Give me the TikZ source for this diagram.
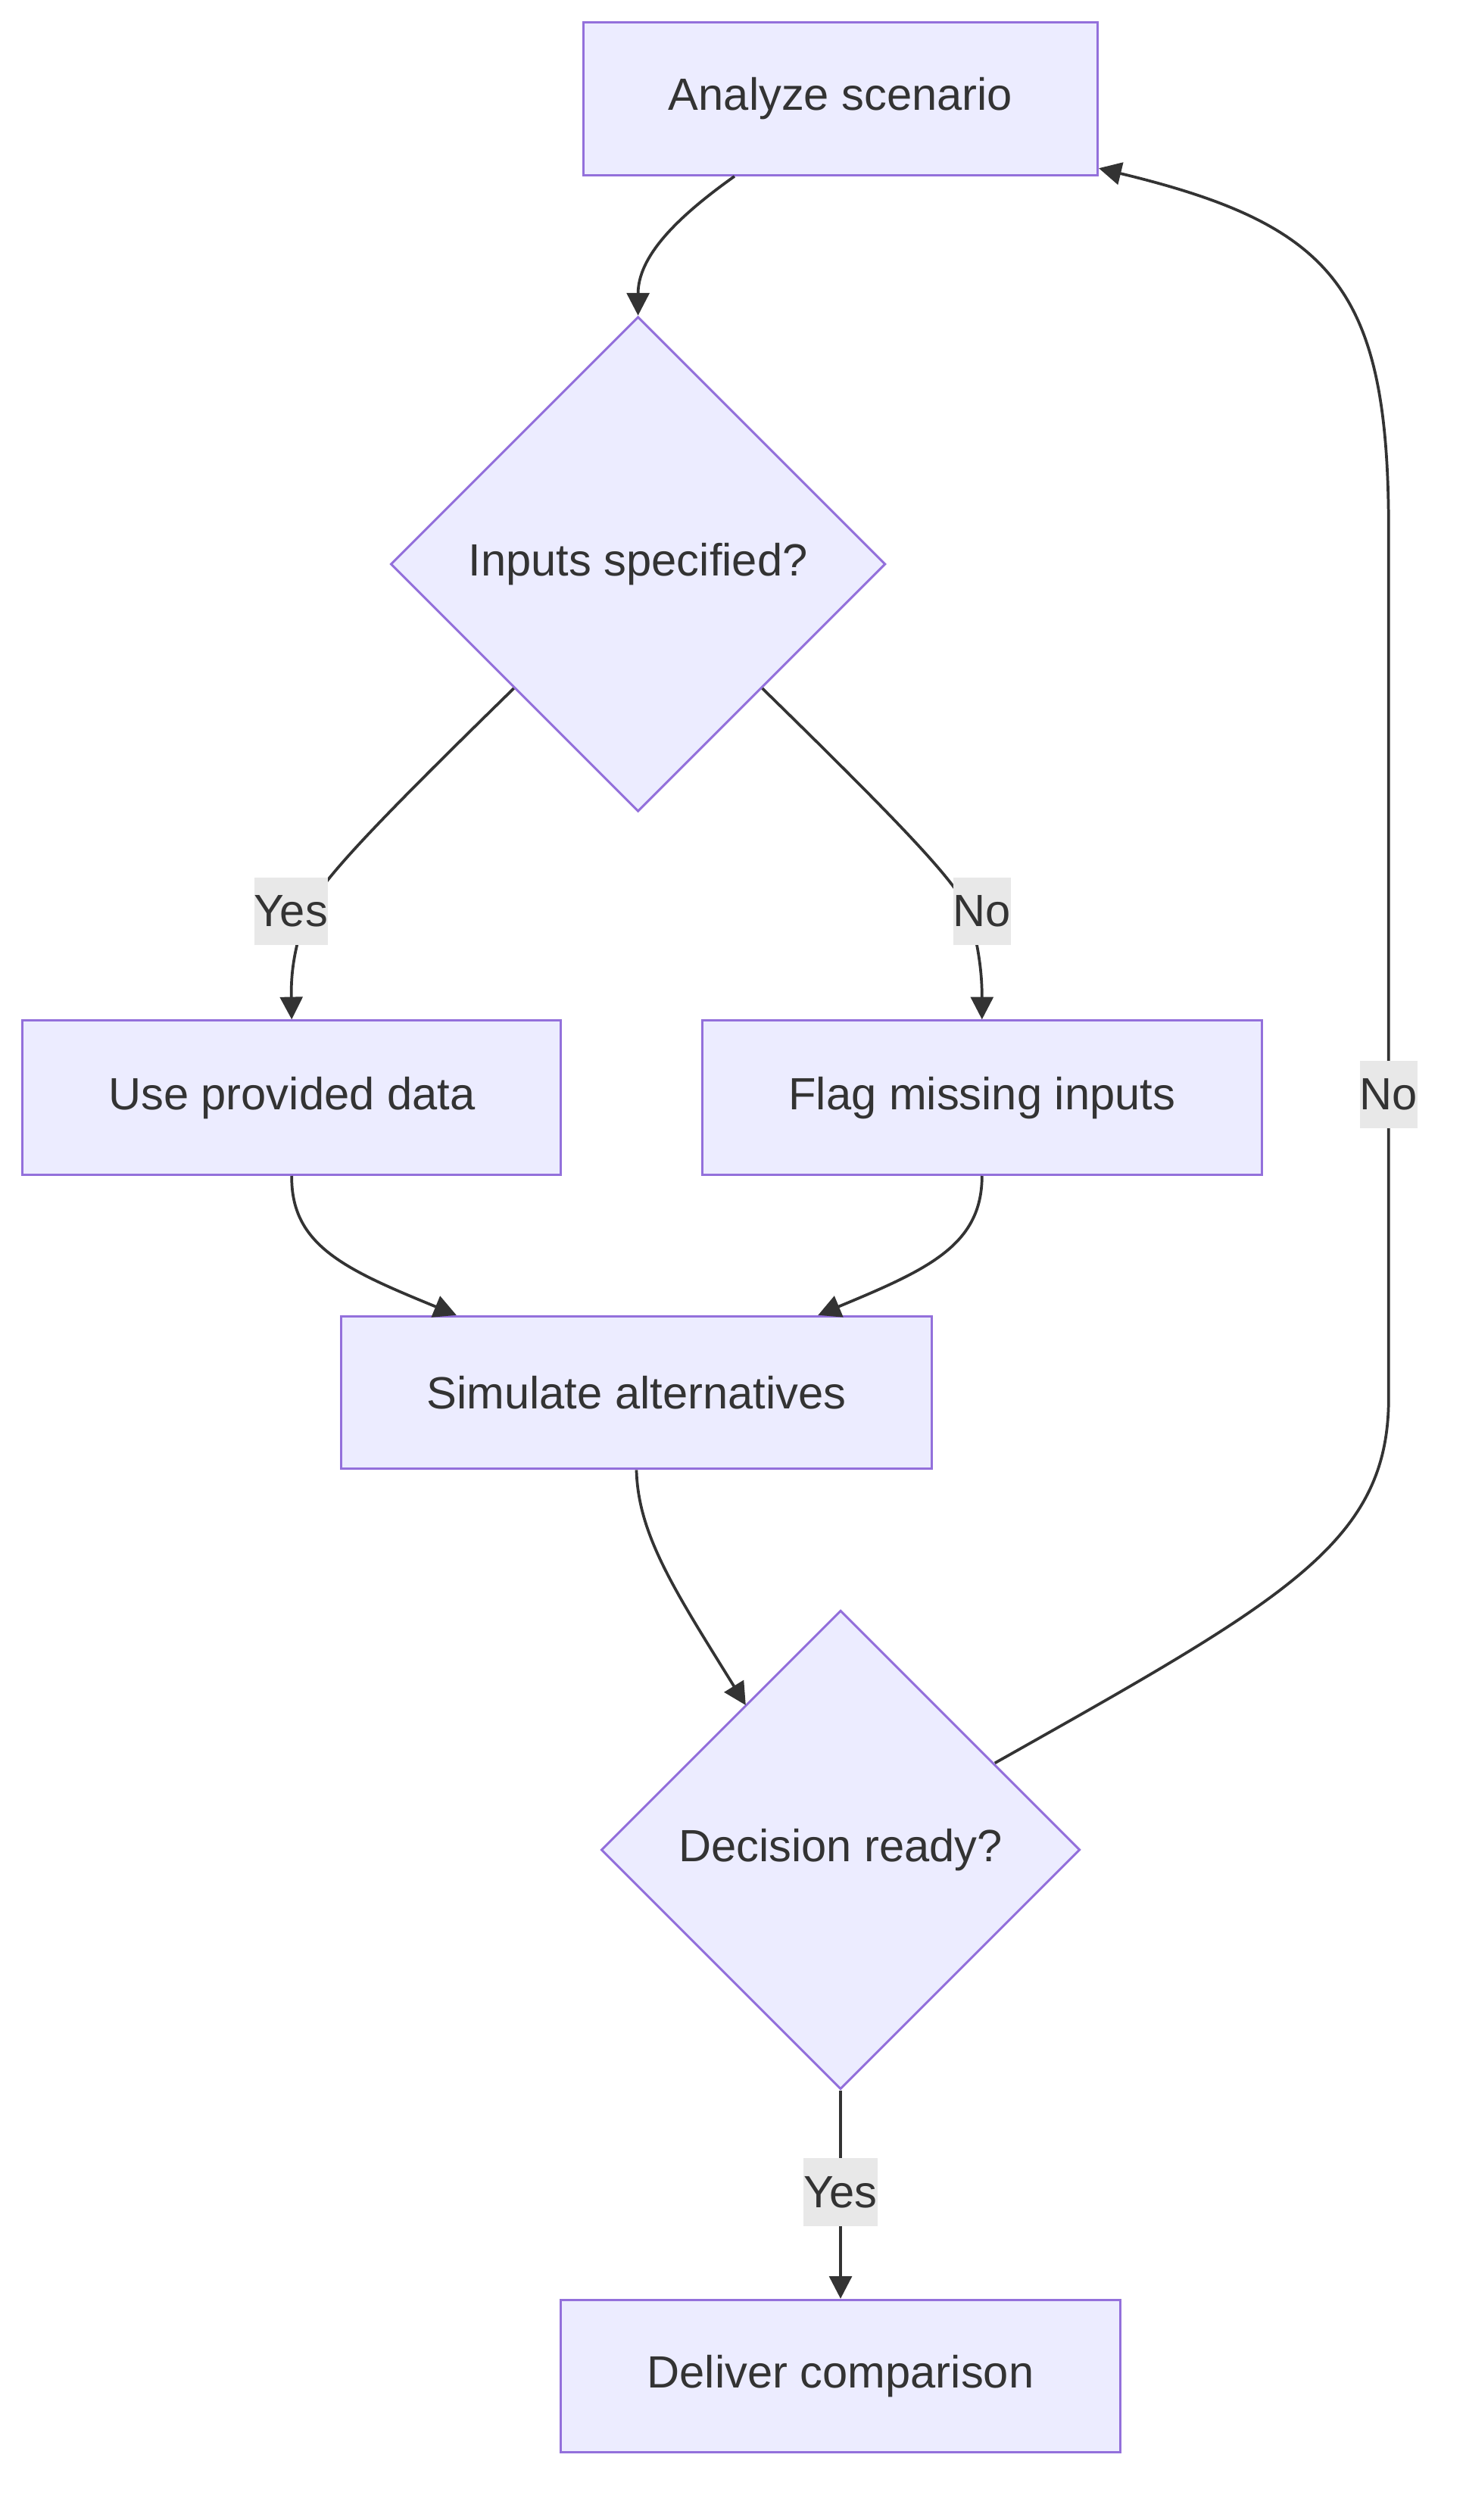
\documentclass[tikz,border=0pt]{standalone}
\usepackage{fontspec}
\setmainfont{Liberation Sans}
\usetikzlibrary{arrows.meta,calc,shapes.geometric}
\definecolor{boxfill}{HTML}{ECECFF}
\definecolor{boxline}{HTML}{9370DB}
\definecolor{ink}{HTML}{333333}
\definecolor{lblfill}{HTML}{E8E8E8}

\begin{document}
\begin{tikzpicture}[x=0.02cm,y=-0.02cm,font=\fontsize{16}{19}\selectfont,>={Triangle[length=0.28cm,width=0.28cm]},
  box/.style={draw=boxline,fill=boxfill,line width=0.8pt,text=ink,minimum height=1.9cm,inner sep=0pt},
  choice/.style={diamond,aspect=1,draw=boxline,fill=boxfill,line width=0.8pt,text=ink,inner sep=0pt},
  flow/.style={draw=ink,line width=1pt,->},
  lbl/.style={fill=lblfill,text=ink,inner xsep=0pt,inner ysep=0pt,minimum height=0.84cm}]
\useasboundingbox (0,0) rectangle (912,1568);
% steps and questions
\node[box,minimum width=6.4cm] (ana) at (523,61.5) {Analyze scenario};
\node[choice,minimum width=6.16cm,minimum height=6.16cm] (inp) at (397,351) {Inputs specified?};
\node[box,minimum width=6.7cm,minimum height=1.92cm] (use) at (181.5,683) {Use provided data};
\node[box,minimum width=6.96cm,minimum height=1.92cm] (flag) at (611,683) {Flag missing inputs};
\node[box,minimum width=7.36cm] (sim) at (396,866.5) {Simulate alternatives};
\node[choice,minimum width=5.96cm,minimum height=5.96cm] (dec) at (523,1151) {Decision ready?};
\node[box,minimum width=6.96cm] (del) at (523,1478.5) {Deliver comparison};
% where the edge labels sit
\coordinate (yes1) at (181,567);
\coordinate (no1) at (611,567);
\coordinate (no2) at (864,681);
\coordinate (yes2) at (523,1364);
% connectors
\draw[flow] ($(ana.south)+(-66,0)$) .. controls (420,136) and (397,160) .. (inp.north);
\draw[flow] (inp.south west) .. controls (230,516) and (200,548) .. (191,567) .. controls (183,590) and (181,605) .. (use.north);
\draw[flow] (inp.south east) .. controls (564,516) and (594,548) .. (603,567) .. controls (609,590) and (611,605) .. (flag.north);
\draw[flow] (use.south) .. controls (181,775) and (215,790) .. ($(sim.north)+(-112,0)$);
\draw[flow] (flag.south) .. controls (611,775) and (577,790) .. ($(sim.north)+(113,0)$);
\draw[flow] (sim.south) .. controls (397,955) and (420,990) .. ($(dec.center)+(-59,-90)$);
\draw[flow] ($(dec.center)+(96,-54)$) .. controls (800,995) and (864,960) .. (864,870) -- (no2) -- (864,330) .. controls (864,180) and (830,140) .. ($(ana.south east)+(0,-5)$);
\draw[flow] (dec.south) -- (del.north);
% edge labels on top
\node[lbl] (yesa) at (yes1) {Yes};
\node[lbl] (noa) at (no1) {No};
\node[lbl] (nob) at (no2) {No};
\node[lbl] (yesb) at (yes2) {Yes};
\end{tikzpicture}
\end{document}
